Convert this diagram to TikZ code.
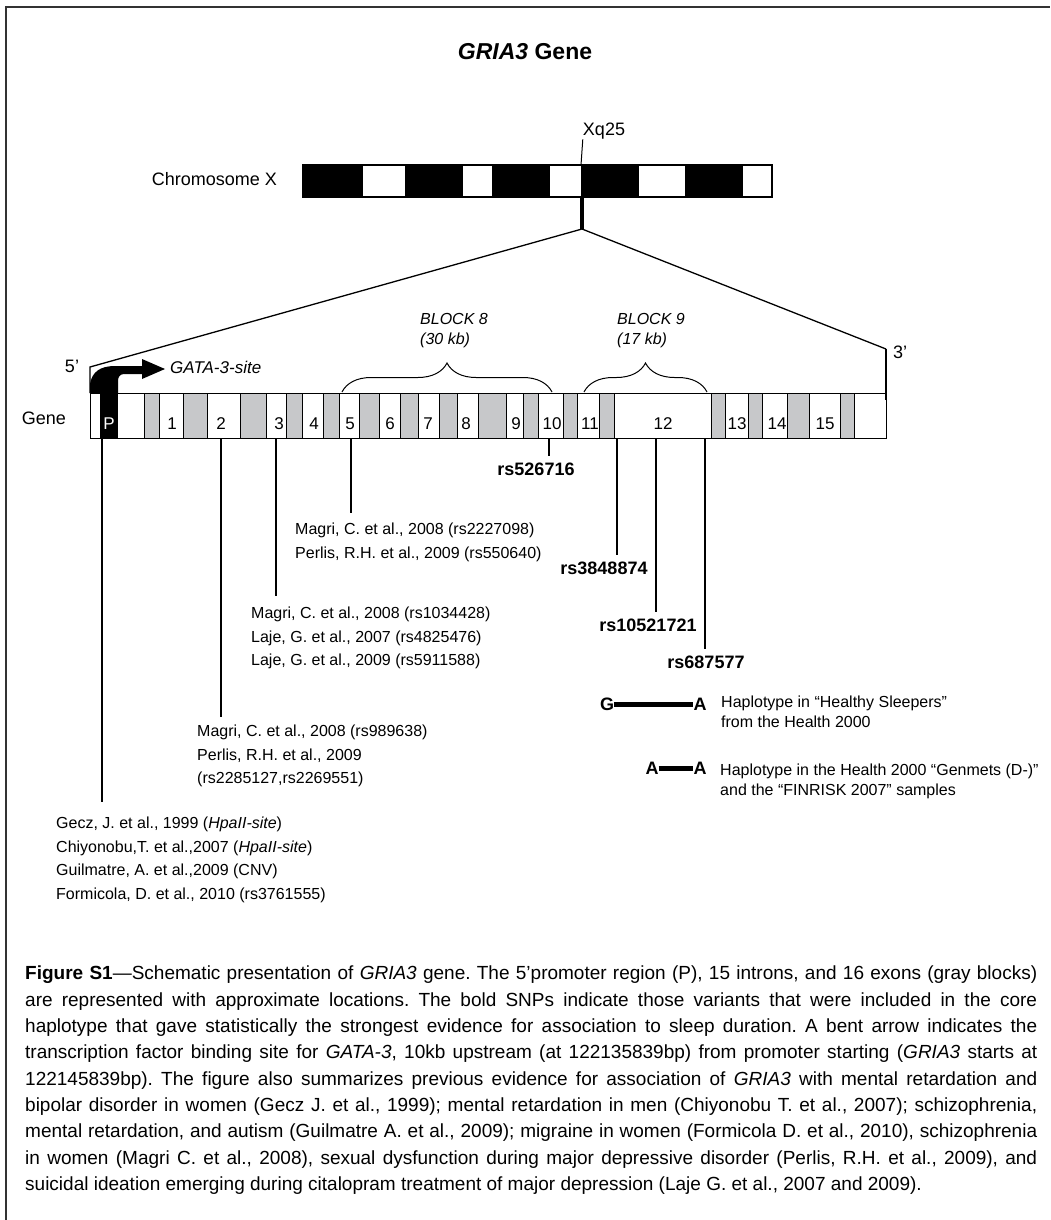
\documentclass[tikz,border=0pt]{standalone}
\usepackage{fontspec}
\setmainfont{Liberation Sans}
\usetikzlibrary{positioning,decorations.pathreplacing}
\definecolor{exongray}{RGB}{199,200,202}

\begin{document}
\begin{tikzpicture}[x=1pt,y=-1pt,
  lab/.style={font=\fontsize{18}{22}\selectfont,inner sep=0pt},
  num/.style={font=\fontsize{17}{17}\selectfont,inner sep=0pt},
  ref/.style={font=\fontsize{16}{23.5}\selectfont,align=left,anchor=north west,inner sep=0pt},
  snp/.style={font=\bfseries\fontsize{18}{18}\selectfont,inner sep=0pt},
  blk/.style={font=\itshape\fontsize{16}{20}\selectfont,align=left,anchor=north west,inner sep=0pt},
  hap/.style={font=\fontsize{16}{20}\selectfont,align=left,anchor=north west,inner sep=0pt},
  captext/.style={font=\fontsize{19}{26.3}\selectfont,text width=1012pt,align=justify,anchor=north west,inner sep=0pt},
  tick/.style={line width=2.3pt},
  exon/.style={fill=exongray,draw=black,line width=0.8pt},
  brc/.style={decorate,decoration={brace,amplitude=29pt},line width=1pt}]
  \useasboundingbox (0,0) rectangle (1050,1220);
  \draw[line width=2pt,black!80] (6,1220) -- (6,7) -- (1050,7);
  \node[font=\bfseries\fontsize{23}{23}\selectfont] (title) at (525,52) {\textit{GRIA3} Gene};
  % chromosome
  \node[lab,anchor=east] (chrx) at (277,179) {Chromosome X};
  \foreach \a/\b in {303/363,405/463,492/550,581/639,685/743}
    \fill (\a,165) rectangle (\b,197);
  \draw[line width=1.2pt] (303,165) rectangle (772,197);
  \node[lab] (xq) at (604,131) {Xq25};
  \coordinate (band) at (581,165);
  \draw[line width=1pt] (band) -- (xq.south west);
  \coordinate (cen) at (582,197);
  \coordinate (hub) at (582,229);
  \coordinate (five) at (90,367);
  \coordinate (fivebar) at (90,393);
  \coordinate (three) at (886,349);
  \coordinate (threebar) at (886,400);
  \draw[line width=4pt] (cen) -- (hub);
  \draw[line width=1.3pt] (fivebar) -- (five) -- (hub) -- (three);
  \draw[line width=2.5pt] (three) -- (threebar);
  \node[lab] (p5) at (72,366) {5’};
  \node[lab] (p3) at (900,352) {3’};
  % gene
  \node[lab,anchor=east] (gene) at (66,418) {Gene};
  \draw[line width=1pt] (90,393) rectangle (886,438);
  \foreach \a/\b in {144/159,183/207,240/266,286/302,323/339,359/379,400/418,439/457,478/506,523/538,563/577,599/614,711/725,748/762,787/809,840/854}
    \draw[exon] (\a,393) rectangle (\b,438);
  \fill (100,393) rectangle (118,438);
  \node[num,text=white] (prom) at (109,424) {P};
  \foreach \n/\x in {1/172,2/221,3/279,4/314,5/350,6/390,7/428,8/466,9/516,10/552,11/590,12/663,13/737,14/777,15/825}
    \node[num] (n\n) at (\x,424) {\n};
  \fill (90,393) -- (90,384) .. controls (92,372) and (100,366) .. (115,366) -- (142,366)
    -- (142,359) -- (165,369) -- (142,379) -- (142,374) -- (124,374)
    .. controls (120,374) and (118,377) .. (118,381) -- (118,393) -- cycle;
  \node[font=\itshape\fontsize{17}{17}\selectfont,anchor=west,inner sep=0pt] (gata) at (170,367) {GATA-3-site};
  % blocks
  \draw[brc] (342,392) -- (552,392);
  \draw[brc] (584,392) -- (707,392);
  \node[blk] (b8) at (420,313) {BLOCK 8\\(30 kb)};
  \node[blk] (b9) at (617,313) {BLOCK 9\\(17 kb)};
  % snps
  \foreach \n/\x/\y in {P/102/802,2/221/717,3/276/596,5/351/513,10/549/456,11/617/555,12/656/612,13/705/649}{
    \coordinate (top\n) at (\x,438);
    \coordinate (end\n) at (\x,\y);
    \draw[tick] (top\n) -- (end\n);
  }
  \node[snp] (rs1) at (536,469) {rs526716};
  \node[snp] (rs2) at (604,568) {rs3848874};
  \node[snp] (rs3) at (648,625) {rs10521721};
  \node[snp] (rs4) at (706,662) {rs687577};
  \node[ref] (g5) at (295,523) {Magri, C. et al., 2008 (rs2227098)\\Perlis, R.H. et al., 2009 (rs550640)};
  \node[ref] (g3) at (251,607) {Magri, C. et al., 2008 (rs1034428)\\Laje, G. et al., 2007 (rs4825476)\\Laje, G. et al., 2009 (rs5911588)};
  \node[ref] (g2) at (197,725) {Magri, C. et al., 2008 (rs989638)\\Perlis, R.H. et al., 2009\\(rs2285127,rs2269551)};
  \node[ref] (gp) at (56,817) {Gecz, J. et al., 1999 (\textit{HpaII-site})\\Chiyonobu,T. et al.,2007 (\textit{HpaII-site})\\Guilmatre, A. et al.,2009 (CNV)\\Formicola, D. et al., 2010 (rs3761555)};
  % haplotypes
  \node[snp] (g1) at (607,704) {G};
  \node[snp] (a1) at (700,704) {A};
  \draw[line width=5pt] (g1) -- (a1);
  \node[hap] (h1) at (721,696) {Haplotype in “Healthy Sleepers”\\from the Health 2000};
  \node[snp] (a2) at (652,768) {A};
  \node[snp] (a3) at (700,768) {A};
  \draw[line width=5pt] (a2) -- (a3);
  \node[hap] (h2) at (720,764) {Haplotype in the Health 2000 “Genmets (D-)”\\and the “FINRISK 2007” samples};
  % caption
  \node[captext] (caption) at (25,966) {\frenchspacing\tolerance=9999\hyphenpenalty=10000
    \textbf{Figure S1}—Schematic presentation of \textit{GRIA3} gene. The 5’promoter region (P), 15 introns, and 16 exons (gray blocks)\linebreak
    are represented with approximate locations. The bold SNPs indicate those variants that were included in the core\linebreak
    haplotype that gave statistically the strongest evidence for association to sleep duration. A bent arrow indicates the\linebreak
    transcription factor binding site for \textit{GATA-3}, 10kb upstream (at 122135839bp) from promoter starting (\textit{GRIA3} starts at\linebreak
    122145839bp). The figure also summarizes previous evidence for association of \textit{GRIA3} with mental retardation and\linebreak
    bipolar disorder in women (Gecz J. et al., 1999); mental retardation in men (Chiyonobu T. et al., 2007); schizophrenia,\linebreak
    mental retardation, and autism (Guilmatre A. et al., 2009); migraine in women (Formicola D. et al., 2010), schizophrenia\linebreak
    in women (Magri C. et al., 2008), sexual dysfunction during major depressive disorder (Perlis, R.H. et al., 2009), and\linebreak
    suicidal ideation emerging during citalopram treatment of major depression (Laje G. et al., 2007 and 2009).};
\end{tikzpicture}
\end{document}
